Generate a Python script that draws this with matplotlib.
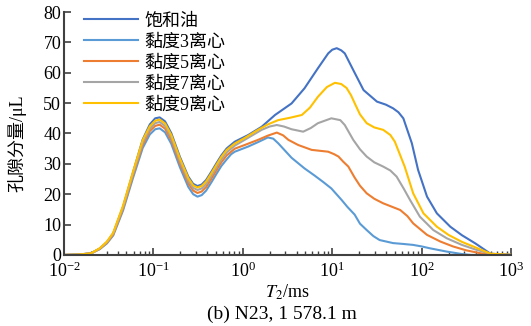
import numpy as np
import matplotlib
matplotlib.use("Agg")
import matplotlib.pyplot as plt

plt.rcParams['font.family'] = ['Liberation Serif', 'Noto Sans CJK SC']
plt.rcParams['mathtext.fontset'] = 'stix'

# T2 spectra; x values are log10(T2 / ms)
oil_x = [-2, -1.85, -1.7, -1.6, -1.52, -1.45, -1.34, -1.23, -1.12, -1.04, -0.98, -0.93,
         -0.87, -0.8, -0.705, -0.61, -0.555, -0.507, -0.46, -0.41, -0.35, -0.295, -0.24,
         -0.18, -0.09, 0.06, 0.21, 0.36, 0.545, 0.69, 0.84, 0.955, 1.0, 1.05, 1.1, 1.14,
         1.235, 1.35, 1.5, 1.6, 1.68, 1.74, 1.795, 1.89, 1.96, 2.06, 2.17, 2.32, 2.45,
         2.6, 2.77, 3.0]
oil_y = [0, 0.1, 0.5, 2.1, 4.2, 7.0, 15.8, 27, 38, 43, 45, 45.3,
         44, 40.1, 32.4, 25.8, 23.4, 22.7, 23.2, 24.7, 27.5, 30.2, 32.8,
         35.1, 37.3, 39.5, 42.2, 46.1, 49.9, 54.9, 61.5, 66.4, 67.6, 68.1, 67.4, 66.4,
         60.9, 54.3, 50.5, 49.5, 48.3, 47, 45, 36.8, 28.0, 19.2, 13.7, 9.3, 6.5,
         3.8, 0.4, 0]

v3_x = [-2, -1.85, -1.7, -1.6, -1.52, -1.45, -1.34, -1.23, -1.12, -1.04, -0.98, -0.93,
        -0.87, -0.8, -0.705, -0.61, -0.555, -0.507, -0.46, -0.41, -0.35, -0.295, -0.24,
        -0.18, -0.13, -0.09, 0.06, 0.18, 0.28, 0.34, 0.395, 0.545, 0.69, 0.8, 0.9, 0.99,
        1.105, 1.17, 1.25, 1.31, 1.385, 1.46, 1.53, 1.68, 1.8, 1.905, 2.0, 2.09, 2.28,
        2.45, 2.55, 3.0]
v3_y = [0, 0.1, 0.5, 1.9, 3.8, 6.4, 14.6, 25.2, 35.2, 39.7, 41.4, 41.7,
        40.4, 36.6, 29, 22.4, 20, 19.2, 19.7, 21.2, 24, 26.7, 29.3,
        31.5, 33.2, 34, 35.7, 37.3, 38.7, 38.3, 36.8, 32, 28.5, 26.2, 24, 21.9,
        18.1, 15.8, 13.3, 10.3, 8.2, 6.2, 4.9, 3.9, 3.6, 3.3, 2.8, 2.2, 1.1,
        0.3, 0, 0]

v5_x = [-2, -1.85, -1.7, -1.6, -1.52, -1.45, -1.34, -1.23, -1.12, -1.04, -0.98, -0.93,
        -0.87, -0.8, -0.705, -0.61, -0.555, -0.507, -0.46, -0.41, -0.35, -0.295, -0.24,
        -0.18, -0.09, 0.02, 0.17, 0.28, 0.38, 0.45, 0.51, 0.62, 0.77, 0.955, 1.02, 1.07,
        1.12, 1.18, 1.25, 1.31, 1.385, 1.47, 1.57, 1.76, 1.84, 1.905, 2.06, 2.21, 2.35,
        2.5, 2.65, 2.77, 3.0]
v5_y = [0, 0.1, 0.5, 2.0, 4.0, 6.7, 15.2, 26, 36.2, 40.8, 42.5, 42.9,
        41.6, 37.8, 30.2, 23.6, 21.2, 20.4, 20.9, 22.4, 25.2, 27.9, 30.5,
        32.8, 35, 36.2, 37.9, 39.3, 40.3, 39.4, 37.9, 36.2, 34.6, 34, 33.2, 32.4,
        30.8, 29.1, 25.5, 22.8, 20.3, 18.5, 17.0, 14.8, 12.8, 10.4, 6.6, 4.4, 2.8,
        1.5, 0.6, 0.1, 0]

v7_x = [-2, -1.85, -1.7, -1.6, -1.52, -1.45, -1.34, -1.23, -1.12, -1.04, -0.98, -0.93,
        -0.87, -0.8, -0.705, -0.61, -0.555, -0.507, -0.46, -0.41, -0.35, -0.295, -0.24,
        -0.18, -0.09, 0.02, 0.21, 0.3, 0.38, 0.46, 0.545, 0.675, 0.76, 0.84, 0.99, 1.09,
        1.14, 1.235, 1.31, 1.385, 1.47, 1.57, 1.65, 1.72, 1.8, 1.87, 1.98, 2.13, 2.28,
        2.45, 2.6, 2.77, 3.0]
v7_y = [0, 0.1, 0.5, 2.1, 4.2, 7.0, 15.6, 26.5, 37, 41.6, 43.4, 43.8,
        42.5, 38.7, 31.1, 24.5, 22.1, 21.4, 21.9, 23.4, 26.2, 28.9, 31.5,
        33.8, 36, 37.9, 41.2, 42.3, 42.8, 42.3, 41.4, 40.6, 41.8, 43.4, 45.0, 44.4,
        42.8, 37.9, 34.8, 32.4, 30.5, 29.1, 27.8, 25.8, 21.8, 18.1, 12.6, 8.2, 5.5,
        3.3, 1.8, 0.4, 0]

v9_x = [-2, -1.85, -1.7, -1.6, -1.52, -1.45, -1.34, -1.23, -1.12, -1.04, -0.98, -0.93,
        -0.87, -0.8, -0.705, -0.61, -0.555, -0.507, -0.46, -0.41, -0.35, -0.295, -0.24,
        -0.18, -0.09, 0.02, 0.17, 0.28, 0.395, 0.53, 0.66, 0.75, 0.84, 0.94, 1.03, 1.1,
        1.16, 1.21, 1.26, 1.31, 1.385, 1.47, 1.57, 1.65, 1.7, 1.81, 1.905, 2.02, 2.17,
        2.3, 2.45, 2.6, 2.77, 3.02]
v9_y = [0, 0.1, 0.5, 2.2, 4.4, 7.3, 16.2, 27.2, 37.8, 42.4, 44.2, 44.6,
        43.3, 39.5, 31.9, 25.3, 22.9, 22.2, 22.7, 24.2, 27, 29.7, 32.3,
        34.6, 36.7, 38.5, 41.2, 43, 44.4, 45.2, 46.1, 48.5, 52.1, 55.3, 56.7, 56.3,
        55.0, 52.6, 49.4, 46.3, 43.4, 42, 41.2, 39.5, 37.3, 29.1, 20.3, 13.7, 9.3,
        6.6, 4.3, 2.5, 0.4, 0]

series = [
    ("饱和油", oil_x, oil_y, "#4472C4"),
    ("黏度3离心", v3_x, v3_y, "#5B9BD5"),
    ("黏度5离心", v5_x, v5_y, "#ED7D31"),
    ("黏度7离心", v7_x, v7_y, "#A5A5A5"),
    ("黏度9离心", v9_x, v9_y, "#FFC000"),
]

fig = plt.figure(figsize=(5.31, 3.26), dpi=100)
ax = fig.add_axes([0.1205, 0.218, 0.842, 0.745])

for name, xs, ys, color in series:
    ax.plot(10 ** np.array(xs), ys, color=color, lw=1.5, label=name,
            solid_joinstyle="round")

ax.set_xscale("log")
ax.set_xlim(1e-2, 1e3)
ax.set_ylim(0, 80)
ax.set_yticks(range(0, 81, 10))

for side in ("top", "right"):
    ax.spines[side].set_visible(False)
for side in ("left", "bottom"):
    ax.spines[side].set_color("#404040")
    ax.spines[side].set_linewidth(1.5)

ax.tick_params(axis="both", which="major", direction="in", length=5, width=1.2,
               color="#404040", labelsize=13, pad=2)
ax.tick_params(axis="x", which="major", pad=5)
ax.tick_params(axis="x", which="minor", direction="in", length=3, width=1.0,
               color="#404040")

ax.set_xlabel(r"$T_2$/ms", fontsize=13, labelpad=1)
ax.set_ylabel("孔隙分量/μL", fontsize=13)
ax.yaxis.set_label_coords(-0.085, 0.46)

ax.legend(loc="upper left", bbox_to_anchor=(0.009, 1.065), frameon=False, fontsize=13,
          handlelength=3.0, handletextpad=0.35, labelspacing=0.22)

fig.text(0.531, 0.037, "(b) N23, 1 578.1 m", ha="center", va="center", fontsize=14)

fig.savefig("out.png", dpi=100)
